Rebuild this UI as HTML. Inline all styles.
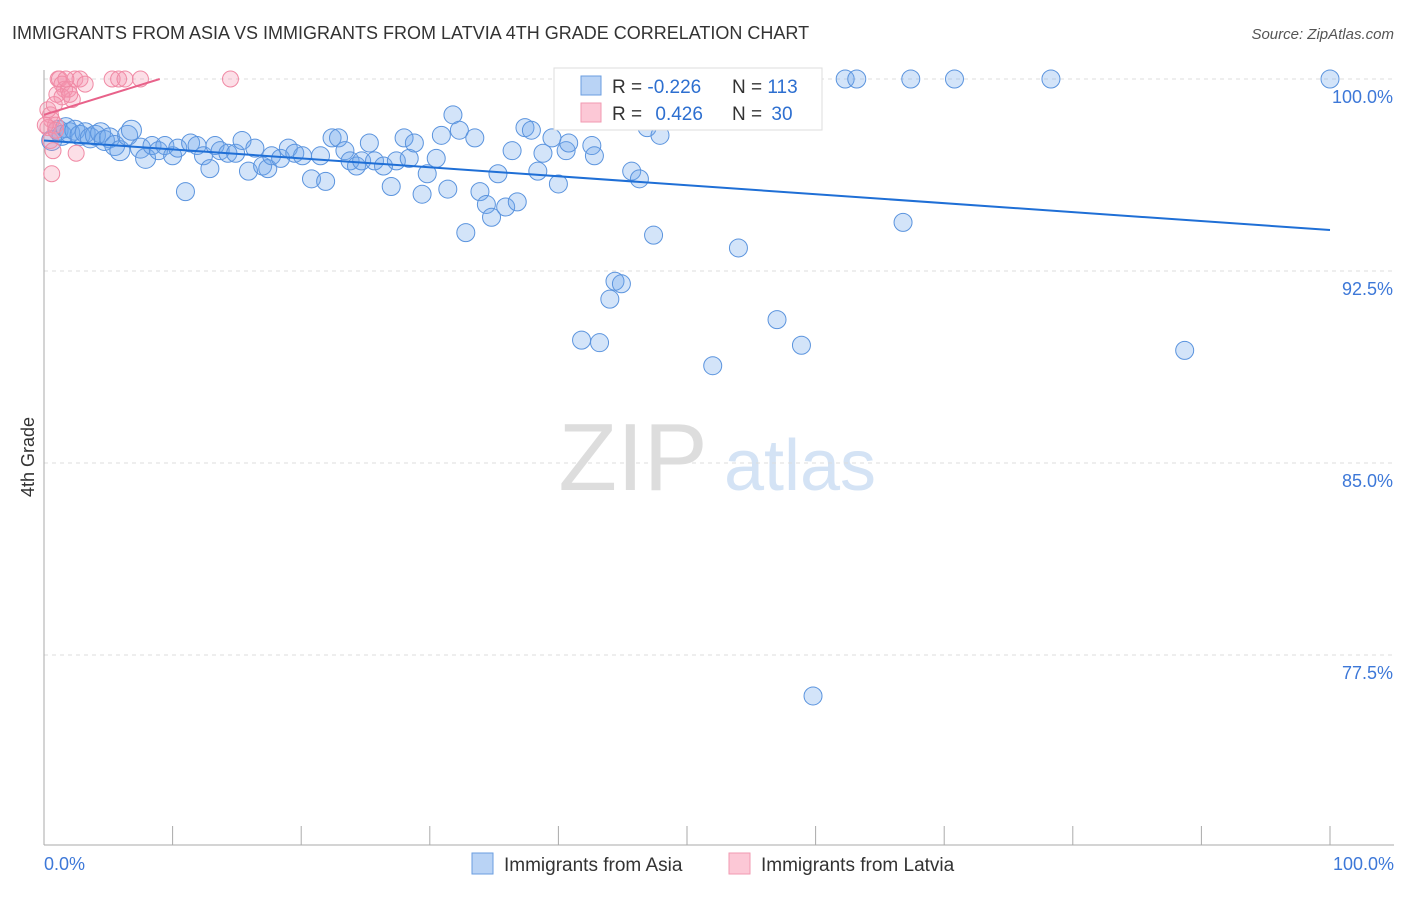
<!DOCTYPE html>
<html><head><meta charset="utf-8"><style>
body{margin:0;background:#fff;font-family:"Liberation Sans",sans-serif;}
svg text{font-family:"Liberation Sans",sans-serif;}
</style></head><body>
<svg id="chart" width="1406" height="892" viewBox="0 0 1406 892">
<text x="12" y="39" font-size="18" fill="#333">IMMIGRANTS FROM ASIA VS IMMIGRANTS FROM LATVIA 4TH GRADE CORRELATION CHART</text>
<text x="1394" y="39" font-size="15" fill="#555" font-style="italic" text-anchor="end">Source: ZipAtlas.com</text>
<text transform="translate(34,457) rotate(-90)" font-size="18" fill="#333" text-anchor="middle">4th Grade</text>
<g>
<text x="633" y="490" font-size="96" fill="#ddd" font-family="Liberation Serif" text-anchor="middle">ZIP</text>
<text x="800" y="490" font-size="72" fill="#d4e3f5" text-anchor="middle">atlas</text>
</g>
<g id="grid"></g>
<g id="axes"></g>
<g id="points"></g>
<g id="lines"></g>
<g>
<rect x="554" y="68" width="268" height="62" fill="#fff" stroke="#ddd"/>
<rect x="581" y="76" width="20" height="19" fill="#b9d3f5" stroke="#6a9ee0"/>
<rect x="581" y="103" width="20" height="19" fill="#fcc8d6" stroke="#f29ab2"/>
<text x="612" y="93" font-size="19" fill="#333">R = <tspan fill="#2d6fd0">-0.226</tspan></text>
<text x="732" y="93" font-size="19" fill="#333">N = <tspan fill="#2d6fd0">113</tspan></text>
<text x="612" y="120" font-size="19" fill="#333">R = <tspan fill="#2d6fd0" dx="8">0.426</tspan></text>
<text x="732" y="120" font-size="19" fill="#333">N = <tspan fill="#2d6fd0" dx="4">30</tspan></text>
</g>
<g>
<rect x="472" y="853" width="21" height="21" fill="#b9d3f5" stroke="#6a9ee0"/>
<text x="504" y="871" font-size="19" fill="#333">Immigrants from Asia</text>
<rect x="729" y="853" width="21" height="21" fill="#fcc8d6" stroke="#f29ab2"/>
<text x="761" y="871" font-size="19" fill="#333">Immigrants from Latvia</text>
</g>
</svg>
<script>
const yTicks=[100,92.5,85,77.5];
const yTickLabels=["100.0%","92.5%","85.0%","77.5%"];
const xTickValues=[0,10,20,30,40,50,60,70,80,90,100];
const asiaX=[0.6,1.1,1.4,1.7,2.0,2.4,2.8,3.2,3.6,4.0,4.4,4.7,5.1,5.5,5.9,6.5,6.8,7.5,7.9,8.4,8.9,9.4,10.0,10.4,11.0,11.4,11.9,12.4,12.9,13.3,13.7,14.3,14.9,15.4,15.9,16.4,17.0,17.4,17.7,18.4,19.0,19.5,20.1,20.8,21.5,21.9,22.4,22.9,23.4,23.8,24.3,24.7,25.3,25.7,26.4,27.0,27.4,28.0,28.4,28.8,29.4,29.8,30.5,30.9,31.4,31.8,32.3,32.8,33.5,33.9,34.4,34.8,35.3,35.9,36.4,36.8,37.4,37.9,38.4,38.8,39.5,40.0,40.6,40.8,41.8,42.6,42.8,43.2,44.0,44.4,44.9,45.3,45.7,46.3,46.9,47.4,47.9,52.0,52.3,53.0,53.4,54.0,57.0,58.9,59.8,62.3,63.2,66.8,67.4,70.8,78.3,88.7,100];
const asiaY=[97.6,98.0,97.8,98.1,97.9,98.0,97.8,97.9,97.7,97.8,97.9,97.6,97.7,97.4,97.2,97.8,98.0,97.3,96.9,97.4,97.2,97.4,97.0,97.3,95.6,97.5,97.4,97.0,96.5,97.4,97.2,97.1,97.1,97.6,96.4,97.3,96.6,96.5,97.0,96.9,97.3,97.1,97.0,96.1,97.0,96.0,97.7,97.7,97.2,96.8,96.6,96.8,97.5,96.8,96.6,95.8,96.8,97.7,96.9,97.5,95.5,96.3,96.9,97.8,95.7,98.6,98.0,94.0,97.7,95.6,95.1,94.6,96.3,95.0,97.2,95.2,98.1,98.0,96.4,97.1,97.7,95.9,97.2,97.5,89.8,97.4,97.0,89.7,91.4,92.1,92.0,99.1,96.4,96.1,98.1,93.9,97.8,88.8,99.5,100,100,93.4,90.6,89.6,75.9,100,100,94.4,100,100,100,89.4,100];
const latviaX=[0.5,0.6,0.9,0.3,0.5,0.7,0.6,1.1,1.2,1.4,1.6,1.9,2.2,2.4,2.8,3.2,1.0,1.4,2.0,5.3,5.8,6.3,7.5,14.5,2.5,0.9,0.3,0.8,1.7,0.1];
const latviaY=[98.6,98.4,98.2,98.1,97.6,97.2,96.3,100,100,99.8,99.6,99.6,99.2,100,100,99.8,99.4,99.3,99.4,100,100,100,100,100,97.1,98.0,98.8,99.0,100,98.2];
const asiaTrend=[[0,97.6],[100,94.1]];
const latviaTrend=[[0,98.6],[9,100]];

const X0=44,X1=1330,Y100=79,PXPER=25.6;
const sx=v=>X0+(X1-X0)*v/100;
const sy=v=>Y100+(100-v)*PXPER;
const NS="http://www.w3.org/2000/svg";
function mk(tag,attrs,parent){const e=document.createElementNS(NS,tag);for(const k in attrs)e.setAttribute(k,attrs[k]);document.getElementById(parent).appendChild(e);return e;}

yTicks.forEach((t,i)=>{
  const l=mk('line',{x1:X0,x2:1394,y1:sy(t),y2:sy(t),stroke:'#ddd','stroke-dasharray':'4,4'},'grid');
  
  
  const tx=mk('text',{x:1393,y:sy(t)+24,'font-size':18,fill:'#3d78d8','text-anchor':'end'},'grid');
  tx.textContent=yTickLabels[i];
  
  
});
const ax=mk('line',{x1:X0,x2:X0,y1:70,y2:845,stroke:'#aaa'},'axes');


const bx=mk('line',{x1:X0,x2:1394,y1:845,y2:845,stroke:'#aaa'},'axes');


xTickValues.forEach(v=>{
  const t=mk('line',{x1:sx(v),x2:sx(v),y1:826,y2:845,stroke:'#aaa'},'axes');
  
  
});
const xl0=mk('text',{x:44,y:870,'font-size':18,fill:'#3d78d8'},'axes');
xl0.textContent='0.0%';


const xl1=mk('text',{x:1394,y:870,'font-size':18,fill:'#3d78d8','text-anchor':'end'},'axes');
xl1.textContent='100.0%';



asiaX.forEach((v,i)=>{
  const c=mk('circle',{cx:sx(v),cy:sy(asiaY[i]),r:v<8?10:9,fill:'rgba(110,165,235,0.3)',stroke:'#5b94de','stroke-width':1},'points');
  
  
});
latviaX.forEach((v,i)=>{
  const c=mk('circle',{cx:sx(v),cy:sy(latviaY[i]),r:8,fill:'rgba(245,150,175,0.3)',stroke:'#f08aa5','stroke-width':1},'points');
  
  
});
const tl1=mk('line',{x1:sx(asiaTrend[0][0]),y1:sy(asiaTrend[0][1]),x2:sx(asiaTrend[1][0]),y2:sy(asiaTrend[1][1]),stroke:'#1f6fd6','stroke-width':2},'lines');


const tl2=mk('line',{x1:sx(latviaTrend[0][0]),y1:sy(latviaTrend[0][1]),x2:sx(latviaTrend[1][0]),y2:sy(latviaTrend[1][1]),stroke:'#e8628a','stroke-width':2},'lines');


</script>
</body></html>
